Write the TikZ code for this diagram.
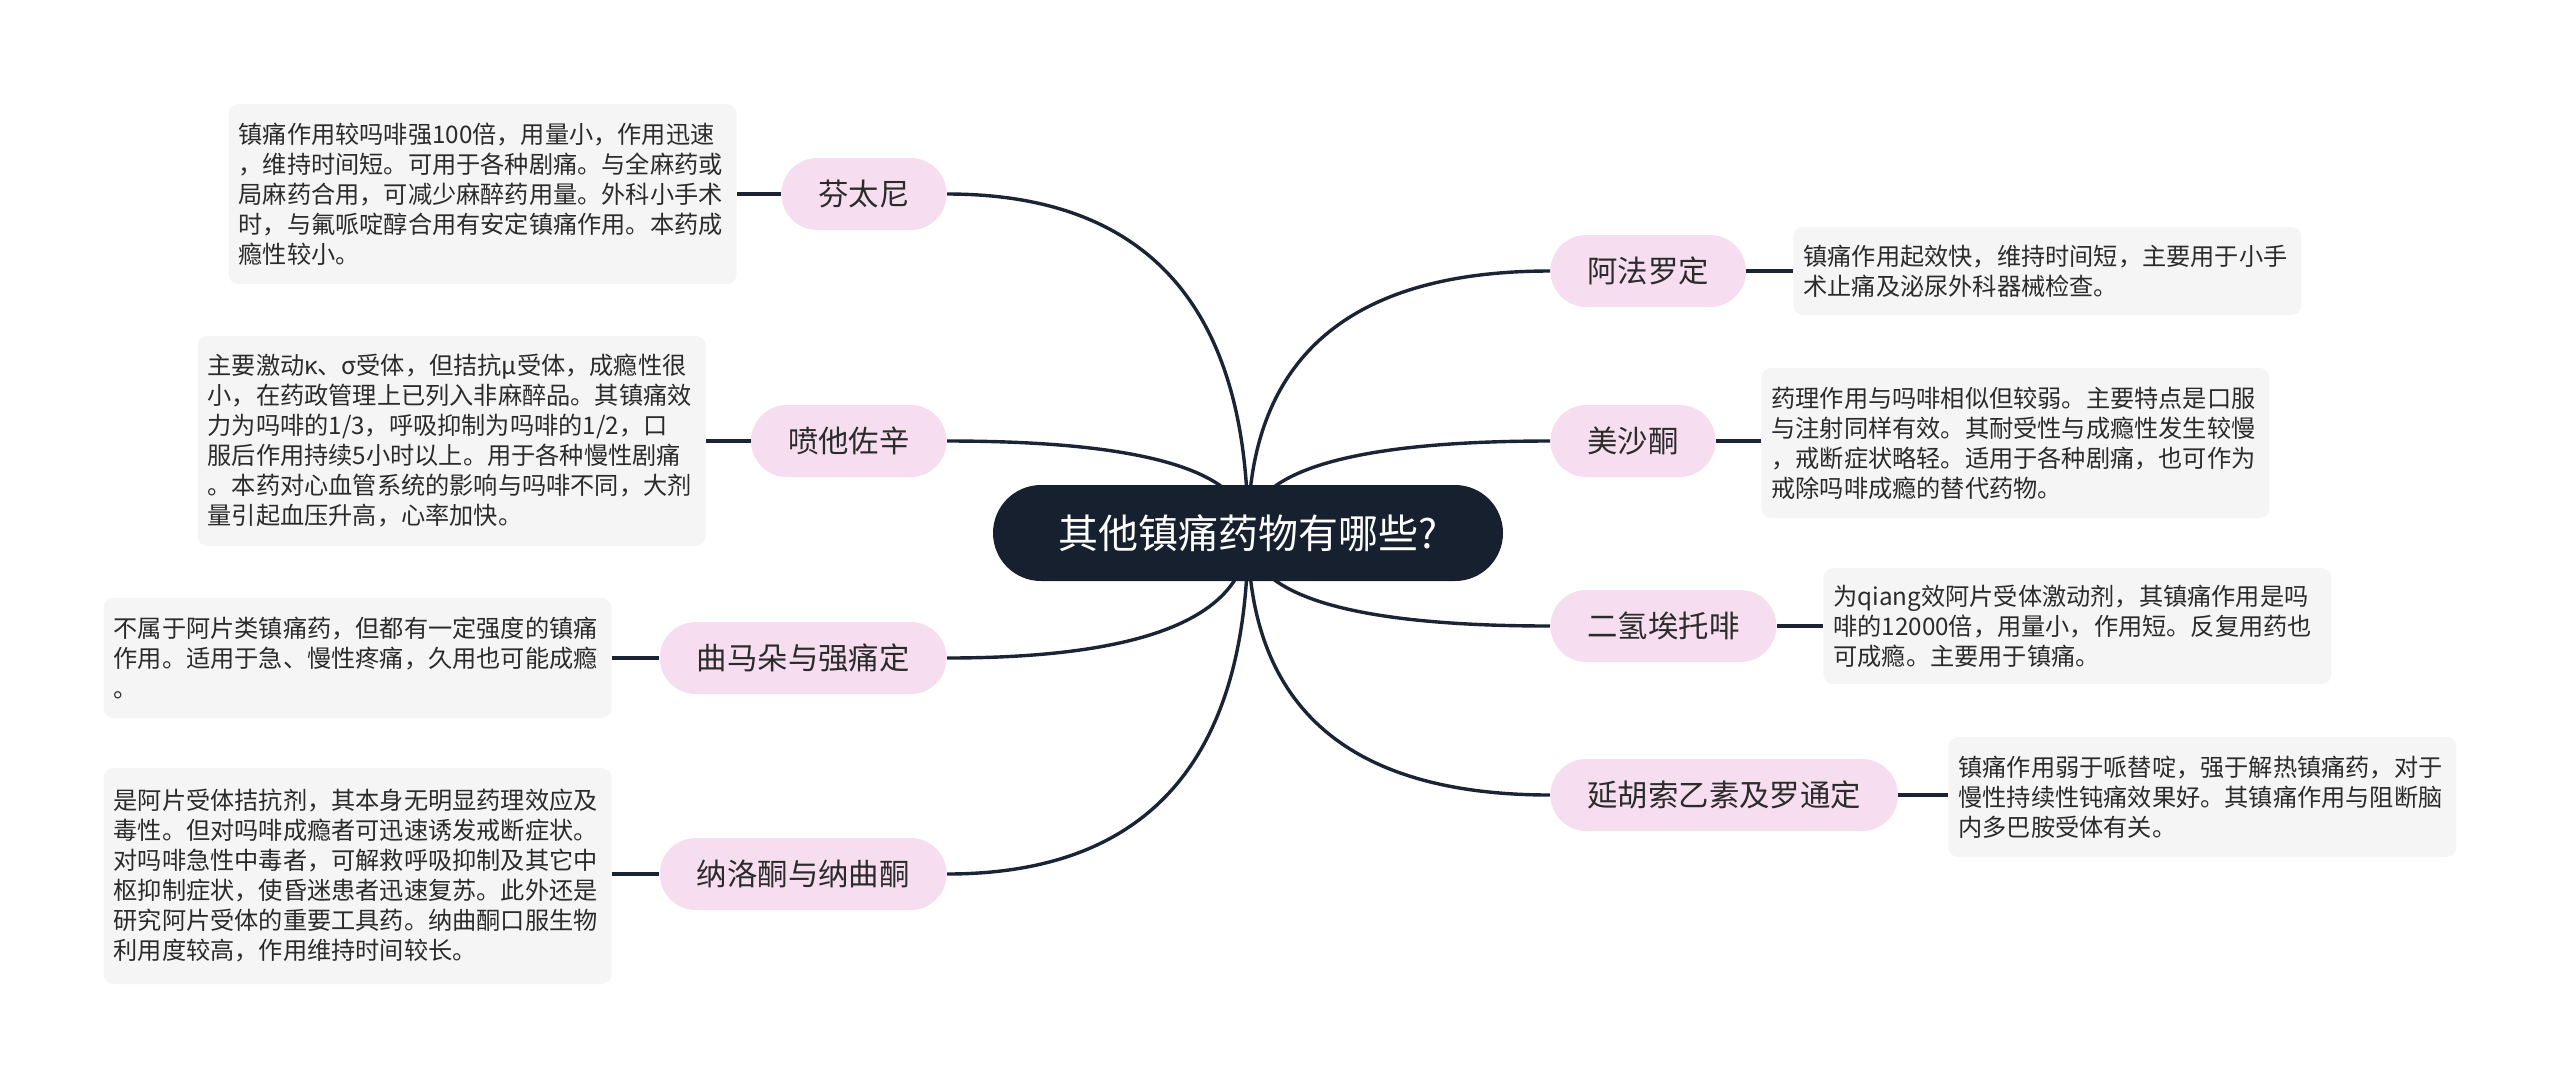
\documentclass[tikz,border=0pt]{standalone}
\usepackage{fontspec}
\setmainfont{Noto Sans CJK SC}
\newfontfamily\cjk{Noto Sans CJK SC}
\usetikzlibrary{backgrounds,calc}
\definecolor{navy}{HTML}{16202F}
\definecolor{pinkf}{HTML}{F6DEF0}
\definecolor{boxf}{HTML}{F5F5F5}
\definecolor{txt}{HTML}{2B2B2B}
\definecolor{linec}{HTML}{1B2434}
\tikzset{
 root/.style={fill=navy, text=white, font=\cjk\fontsize{20pt}{24pt}\selectfont, minimum width=255pt, minimum height=48pt, rounded corners=24pt, inner sep=0pt},
 topic/.style={fill=pinkf, text=txt, font=\cjk\fontsize{15.2pt}{18pt}\selectfont, minimum height=36pt, inner xsep=18.5pt, inner ysep=0pt, rounded corners=18pt},
 note/.style={fill=boxf, text=txt, font=\cjk\fontsize{12.1pt}{15pt}\selectfont, text width=244pt, align=left, inner xsep=5pt, inner ysep=0pt, rounded corners=5pt},
 conn/.style={draw=linec, line width=1.7pt},
}
\newcommand\mmcurve[2]{\draw[conn] let \p1=(#1), \p2=(#2) in (\p1) .. controls (\x1,{\y1+0.6667*(\y2-\y1)}) and ({\x2+0.6667*(\x1-\x2)},\y2) .. (\p2);}
\begin{document}
\begin{tikzpicture}[x=0.5pt,y=-0.5pt]
\useasboundingbox (0,0) rectangle (2560,1083);
% root
\node[root] (root) at (1248,533) {其他镇痛药物有哪些?};
% left topics
\node[topic, anchor=east] (fen) at (947,194) {芬太尼};
\node[topic, anchor=east] (pen) at (947,441) {喷他佐辛};
\node[topic, anchor=east] (qu) at (947,658) {曲马朵与强痛定};
\node[topic, anchor=east] (na) at (947,874) {纳洛酮与纳曲酮};
% right topics
\node[topic, anchor=west] (afa) at (1550,271) {阿法罗定};
\node[topic, anchor=west] (mei) at (1550,441) {美沙酮};
\node[topic, anchor=west] (er) at (1550,626) {二氢埃托啡};
\node[topic, anchor=west] (yan) at (1550,795) {延胡索乙素及罗通定};
% notes
\node[note, anchor=east, minimum height=90pt] (n1) at (737,194) {镇痛作用较吗啡强100倍，用量小，作用迅速\\，维持时间短。可用于各种剧痛。与全麻药或\\局麻药合用，可减少麻醉药用量。外科小手术\\时，与氟哌啶醇合用有安定镇痛作用。本药成\\瘾性较小。};
\node[note, anchor=east, minimum height=105pt] (n2) at (706,441) {主要激动κ、σ受体，但拮抗μ受体，成瘾性很\\小，在药政管理上已列入非麻醉品。其镇痛效\\力为吗啡的1/3，呼吸抑制为吗啡的1/2，口\\服后作用持续5小时以上。用于各种慢性剧痛\\。本药对心血管系统的影响与吗啡不同，大剂\\量引起血压升高，心率加快。};
\node[note, anchor=east, minimum height=60pt] (n3) at (612,658) {不属于阿片类镇痛药，但都有一定强度的镇痛\\作用。适用于急、慢性疼痛，久用也可能成瘾\\。};
\node[note, anchor=east, minimum height=108pt] (n4) at (612,876) {是阿片受体拮抗剂，其本身无明显药理效应及\\毒性。但对吗啡成瘾者可迅速诱发戒断症状。\\对吗啡急性中毒者，可解救呼吸抑制及其它中\\枢抑制症状，使昏迷患者迅速复苏。此外还是\\研究阿片受体的重要工具药。纳曲酮口服生物\\利用度较高，作用维持时间较长。};
\node[note, anchor=west, minimum height=44pt] (n5) at (1793,271) {镇痛作用起效快，维持时间短，主要用于小手\\术止痛及泌尿外科器械检查。};
\node[note, anchor=west, minimum height=75pt] (n6) at (1761,443) {药理作用与吗啡相似但较弱。主要特点是口服\\与注射同样有效。其耐受性与成瘾性发生较慢\\，戒断症状略轻。适用于各种剧痛，也可作为\\戒除吗啡成瘾的替代药物。};
\node[note, anchor=west, minimum height=58pt] (n7) at (1823,626) {为qiang效阿片受体激动剂，其镇痛作用是吗\\啡的12000倍，用量小，作用短。反复用药也\\可成瘾。主要用于镇痛。};
\node[note, anchor=west, minimum height=60pt] (n8) at (1948,797) {镇痛作用弱于哌替啶，强于解热镇痛药，对于\\慢性持续性钝痛效果好。其镇痛作用与阻断脑\\内多巴胺受体有关。};
\begin{pgfonlayer}{background}
\fill[white] (0,0) rectangle (2560,1083);
\mmcurve{root.center}{fen.east}
\mmcurve{root.center}{pen.east}
\mmcurve{root.center}{qu.east}
\mmcurve{root.center}{na.east}
\mmcurve{root.center}{afa.west}
\mmcurve{root.center}{mei.west}
\mmcurve{root.center}{er.west}
\mmcurve{root.center}{yan.west}
\draw[conn] (n1.east |- fen.west) -- (fen.west);
\draw[conn] (n2.east |- pen.west) -- (pen.west);
\draw[conn] (n3.east |- qu.west) -- (qu.west);
\draw[conn] (n4.east |- na.west) -- (na.west);
\draw[conn] (afa.east) -- (n5.west |- afa.east);
\draw[conn] (mei.east) -- (n6.west |- mei.east);
\draw[conn] (er.east) -- (n7.west |- er.east);
\draw[conn] (yan.east) -- (n8.west |- yan.east);
\end{pgfonlayer}
\end{tikzpicture}
\end{document}
